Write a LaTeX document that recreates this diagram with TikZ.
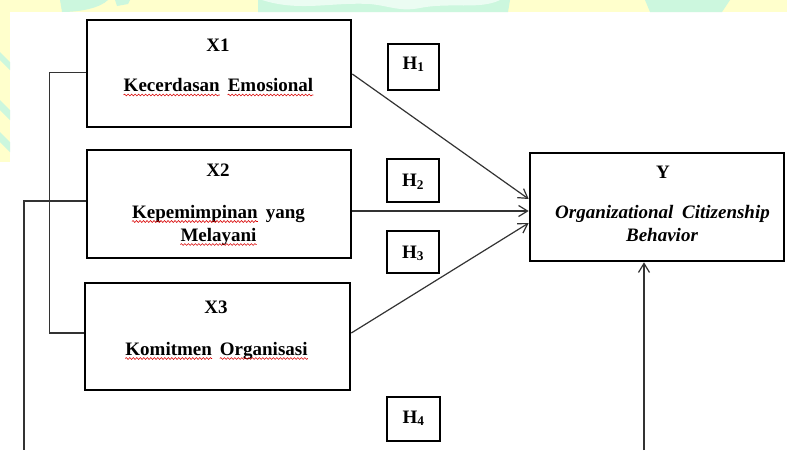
\documentclass[tikz,border=0pt]{standalone}
\usepackage{fontspec}
\setmainfont{Liberation Serif}
\usetikzlibrary{arrows.meta,calc,decorations.pathmorphing}
\newcommand\ws{\hspace{8pt}}
\definecolor{wyellow}{HTML}{FFFFCC}
\definecolor{wmint}{HTML}{CCF7DE}
\begin{document}
\begin{tikzpicture}[x=1pt,y=-1pt,
  box/.style={draw=black,line width=2.6pt,inner sep=0pt},
  hbox/.style={draw=black,line width=2.2pt,inner sep=0pt},
  txt/.style={font=\fontsize{19}{23}\selectfont\bfseries,anchor=base,inner sep=0pt},
  conn/.style={draw=black!80,line width=1.2pt},
  arr/.style={conn,-{Straight Barb[length=9pt,width=11pt,line width=1.2pt]}},
  wave/.style={draw=red!85!black,line width=0.6pt,decorate,decoration={snake,amplitude=0.9pt,segment length=3.5pt}}]
\useasboundingbox (0,0) rectangle (787,450);
\fill[white] (0,0) rectangle (787,450);
% watermark strips
\fill[wyellow] (0,0) rectangle (787,12);
\fill[wyellow] (0,0) rectangle (10,162);
\fill[wmint] (60,0) -- (108,0) .. controls (100,8) and (80,12) .. (62,12) -- cycle;
\fill[wmint] (115,0) -- (130,0) -- (128,4) -- (117,6) -- cycle;
\fill[wmint] (258,0) -- (510,0) -- (508,12) -- (258,12) -- cycle;
\fill[white!60!wmint] (262,0) .. controls (300,12) and (330,2) .. (370,4) .. controls (390,6) and (400,12) .. (420,8) .. controls (450,2) and (480,10) .. (500,0) -- cycle;
\fill[wmint] (645,0) -- (730,0) -- (722,12) -- (650,12) -- cycle;
\fill[wmint] (0,52) -- (10,62) -- (10,70) -- (0,60) -- cycle;
\fill[wmint] (0,100) -- (10,110) -- (10,120) -- (0,110) -- cycle;
\fill[wmint] (0,132) -- (10,142) -- (10,152) -- (0,142) -- cycle;
% boxes
\node[box,minimum width=264pt,minimum height=107pt] (x1) at (219,73.5) {};
\node[box,minimum width=264pt,minimum height=108pt] (x2) at (219,204) {};
\node[box,minimum width=265pt,minimum height=107pt] (x3) at (217.5,336.5) {};
\node[box,minimum width=254pt,minimum height=108pt] (y) at (657,207) {};
\node[hbox,minimum width=51pt,minimum height=46pt] (h1) at (413.5,67) {};
\node[hbox,minimum width=52pt,minimum height=43pt] (h2) at (413,180.5) {};
\node[hbox,minimum width=52pt,minimum height=42pt] (h3) at (413,252) {};
\node[hbox,minimum width=53pt,minimum height=44pt] (h4) at (413.5,419) {};
% texts
\node[txt] (x1a) at (218,51.5) {X1};
\node[txt] (x1b) at (218.5,91.5) {\phantom{Kecerdasan\ws Emosional}};
\node[txt,anchor=base west] (x1b1) at (x1b.base west) {Kecerdasan};
\node[txt,anchor=base east] (x1b2) at (x1b.base east) {Emosional};
\node[txt] (x2a) at (218,176.5) {X2};
\node[txt] (x2b) at (218.5,218) {\phantom{Kepemimpinan\ws yang}};
\node[txt,anchor=base west] (x2b1) at (x2b.base west) {Kepemimpinan};
\node[txt,anchor=base east] (x2b2) at (x2b.base east) {yang};
\node[txt] (x2c) at (218.5,241) {Melayani};
\node[txt] (x3a) at (216,313) {X3};
\node[txt] (x3b) at (216.5,355) {\phantom{Komitmen\ws Organisasi}};
\node[txt,anchor=base west] (x3b1) at (x3b.base west) {Komitmen};
\node[txt,anchor=base east] (x3b2) at (x3b.base east) {Organisasi};
\node[txt] (ya) at (663,178) {Y};
\node[txt] (yb) at (662.5,218) {\itshape Organizational\hspace{4pt} Citizenship};
\node[txt] (yc) at (662,241.5) {\itshape Behavior};
\node[txt] (h1t) at (h1.center) [yshift=-2pt] {H\textsubscript{1}};
\node[txt] (h2t) at (h2.center) [yshift=-6pt] {H\textsubscript{2}};
\node[txt] (h3t) at (h3.center) [yshift=-6pt] {H\textsubscript{3}};
\node[txt] (h4t) at (h4.center) [yshift=-4pt] {H\textsubscript{4}};
% spell-check waves
\foreach \w in {x1b1,x1b2,x2b1,x2c,x3b1,x3b2}
  \draw[wave] ($(\w.base west)+(0,3.5)$) -- ($(\w.base east)+(0,3.5)$);
% connectors
\coordinate (bl) at (24,450);
\coordinate (br) at (644,450);
\draw[arr] ($(x1.east)+(0,0.5)$) -- ($(y.west)+(0,-8)$);
\draw[arr] ($(x2.east)+(0,7)$) -- ($(y.west)+(0,4)$);
\draw[arr] ($(x3.east)+(0,-3.5)$) -- ($(y.west)+(0,16)$);
\draw[conn] ($(x1.west)+(0,-1)$) -- ++(-36,0) |- ($(x3.west)+(0,-3.5)$);
\draw[conn] ($(x2.west)+(0,-3)$) -| (bl);
\draw[arr] (br) -- ($(y.south)+(-13,0)$);
\end{tikzpicture}
\end{document}
